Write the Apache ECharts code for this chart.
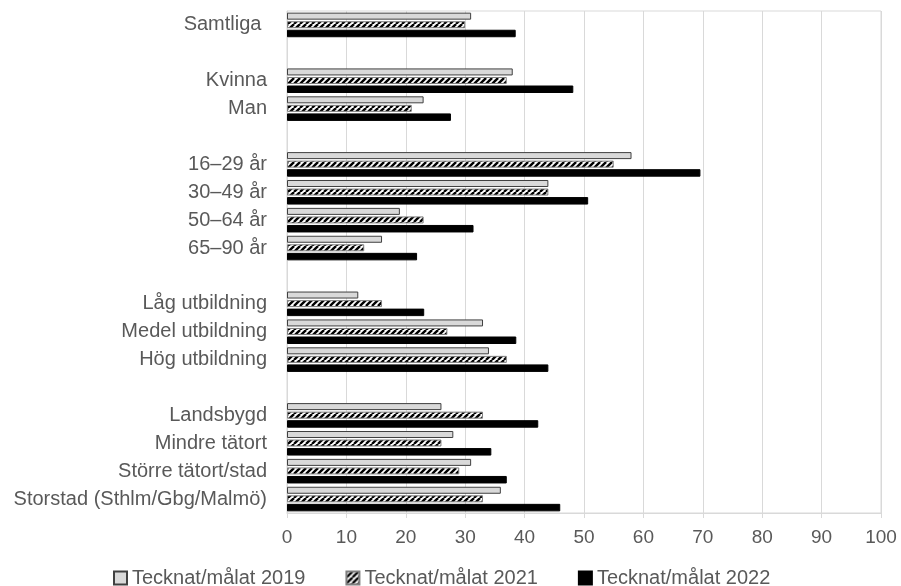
<!DOCTYPE html>
<html>
<head>
<meta charset="utf-8">
<script src="https://cdn.jsdelivr.net/npm/echarts@6/dist/echarts.min.js"></script>
<style>
  html, body { margin: 0; padding: 0; background: #fff; }
  #main { width: 901px; height: 586px; }
</style>
</head>
<body>
<div id="main"></div>
<script>
// kategorier uppifrån och ned, tomma rader ger luft mellan grupperna
var categories = [
  'Samtliga ', ' ',
  'Kvinna', 'Man', '  ',
  '16–29 år', '30–49 år', '50–64 år', '65–90 år', '   ',
  'Låg utbildning', 'Medel utbildning', 'Hög utbildning', '    ',
  'Landsbygd', 'Mindre tätort', 'Större tätort/stad', 'Storstad (Sthlm/Gbg/Malmö)'
];
var seriesNames = ['Tecknat/målat 2019', 'Tecknat/målat 2021', 'Tecknat/målat 2022'];
var values2019 = [31, '-', 38, 23, '-', 58, 44, 19, 16, '-', 12, 33, 34, '-', 26, 28, 31, 36];
var values2021 = [30, '-', 37, 21, '-', 55, 44, 23, 13, '-', 16, 27, 37, '-', 33, 26, 29, 33];
var values2022 = [38.5, '-', 48.2, 27.6, '-', 69.6, 50.7, 31.4, 21.9, '-', 23.1, 38.6, 44, '-', 42.3, 34.4, 37, 46];
var xTicks = { min: 0, max: 100, interval: 10 };

// snedstreckat mönster för 2021
function hatch() {
  var c = document.createElement('canvas');
  c.width = 6; c.height = 6;
  var ctx = c.getContext('2d');
  ctx.fillStyle = '#ffffff';
  ctx.fillRect(0, 0, 6, 6);
  ctx.strokeStyle = '#000000';
  ctx.lineWidth = 2.4;
  [-6, 0, 6].forEach(function (o) {
    ctx.beginPath();
    ctx.moveTo(o, 6);
    ctx.lineTo(o + 6, 0);
    ctx.stroke();
  });
  return c;
}

var textColor = '#595959';
var lineColor = '#d9d9d9';
var font = 'Liberation Sans, Arial, sans-serif';

var chart = echarts.init(document.getElementById('main'));
chart.setOption({
  animation: false,
  textStyle: { fontFamily: font },
  grid: {
    left: 287, right: 20, top: 11, bottom: 73,
    show: true, borderColor: lineColor, borderWidth: 1
  },
  legend: {
    top: 563,
    left: 108,
    icon: 'rect',
    itemWidth: 13,
    itemHeight: 13,
    itemGap: 40,
    textStyle: { fontSize: 20, color: textColor, fontFamily: font },
    data: seriesNames
  },
  xAxis: {
    type: 'value',
    min: xTicks.min,
    max: xTicks.max,
    interval: xTicks.interval,
    axisLine: { show: true, lineStyle: { color: lineColor } },
    axisTick: { show: true, length: 5, lineStyle: { color: lineColor } },
    splitLine: { show: true, lineStyle: { color: lineColor, width: 1 } },
    axisLabel: { fontSize: 19, color: textColor, margin: 15 }
  },
  yAxis: {
    type: 'category',
    inverse: true,
    data: categories,
    axisLine: { show: true, lineStyle: { color: lineColor } },
    axisTick: { show: false },
    axisLabel: { fontSize: 20, color: textColor, margin: 20, interval: 0, padding: [3, 0, 0, 0] }
  },
  series: [
    {
      name: seriesNames[0],
      type: 'bar',
      data: values2019,
      barWidth: 7,
      barGap: '22%',
      itemStyle: { color: '#d9d9d9', borderColor: '#404040', borderWidth: 1 }
    },
    {
      name: seriesNames[1],
      type: 'bar',
      data: values2021,
      barWidth: 7,
      barGap: '22%',
      itemStyle: { color: { image: hatch(), repeat: 'repeat' }, borderColor: '#7f7f7f', borderWidth: 1 }
    },
    {
      name: seriesNames[2],
      type: 'bar',
      data: values2022,
      barWidth: 7.5,
      barGap: '22%',
      itemStyle: { color: '#000000', borderColor: '#000000', borderWidth: 1 }
    }
  ]
});
</script>
</body>
</html>
